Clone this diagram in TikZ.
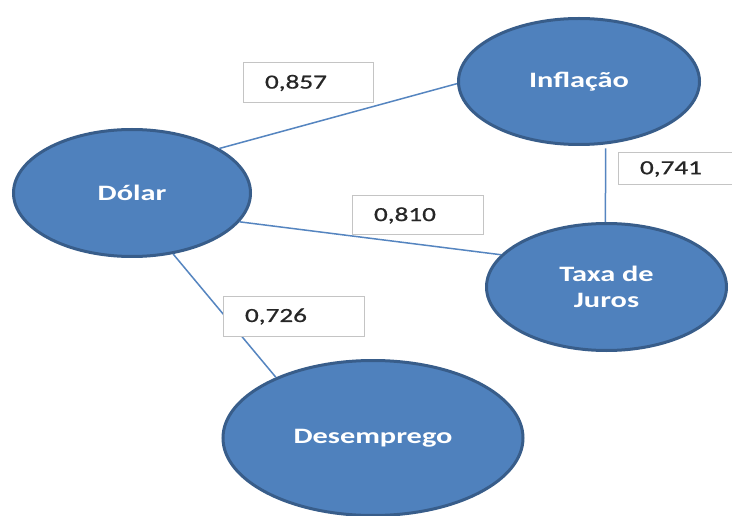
\documentclass[tikz,border=0pt]{standalone}
\usepackage{fontspec}
\setmainfont{Carlito}
\newfontfamily\widefont[FakeStretch=1.38]{Carlito}
\newfontfamily\numfont[FakeStretch=1.36,FakeBold=0.8]{Carlito}
\usetikzlibrary{shapes.geometric}
\definecolor{blfill}{HTML}{4F81BD}
\definecolor{bldraw}{HTML}{385D8A}
\definecolor{blline}{HTML}{5585C0}
\definecolor{boxgray}{HTML}{C4C4C4}
\begin{document}
\begin{tikzpicture}[x=1pt,y=-1pt,
  bubble/.style={ellipse, draw=bldraw, fill=blfill, line width=3pt, inner sep=0pt,
    text=white, font=\widefont\bfseries\fontsize{22}{26}\selectfont, align=center},
  numbox/.style={draw=boxgray, fill=white, line width=1pt, inner ysep=0pt, inner xsep=22pt,
    align=left, font=\numfont\fontsize{20}{24}\selectfont, text=black!85},
  link/.style={draw=blline, line width=1.5pt}]
\useasboundingbox (0,0) rectangle (732,516);
\clip (0,0) rectangle (732,516);
\fill[white] (0,0) rectangle (732,516);

\node[bubble, minimum width=237pt, minimum height=127pt] (dolar) at (132,193) {Dólar};
\node[bubble, minimum width=241pt, minimum height=126pt] (infl) at (579,81.5) {Inflação};
\node[bubble, minimum width=240pt, minimum height=127pt] (taxa) at (606.5,287) {Taxa de\\Juros};
\node[bubble, minimum width=300pt, minimum height=155pt] (desemp) at (373,438) {Desemprego};

\draw[link] (dolar.27.6) -- (infl.181);
\draw[link] (dolar.-15.8) -- (taxa.163.5);
\draw[link] (dolar.-56.5) -- (desemp.148.5);
\draw[link, shorten <=4pt] (infl.-67) -- (taxa.91);

\node[numbox, text width=86pt, minimum height=40pt] (b857) at (308,83) {0,857};
\node[numbox, text width=87pt, minimum height=39pt] (b810) at (417.5,215.5) {0,810};
\node[numbox, text width=97pt, minimum height=39pt] (b726) at (293.5,316.5) {0,726};
\node[numbox, text width=86pt, minimum height=32pt] (b741) at (683,169) {0,741};
\end{tikzpicture}
\end{document}
